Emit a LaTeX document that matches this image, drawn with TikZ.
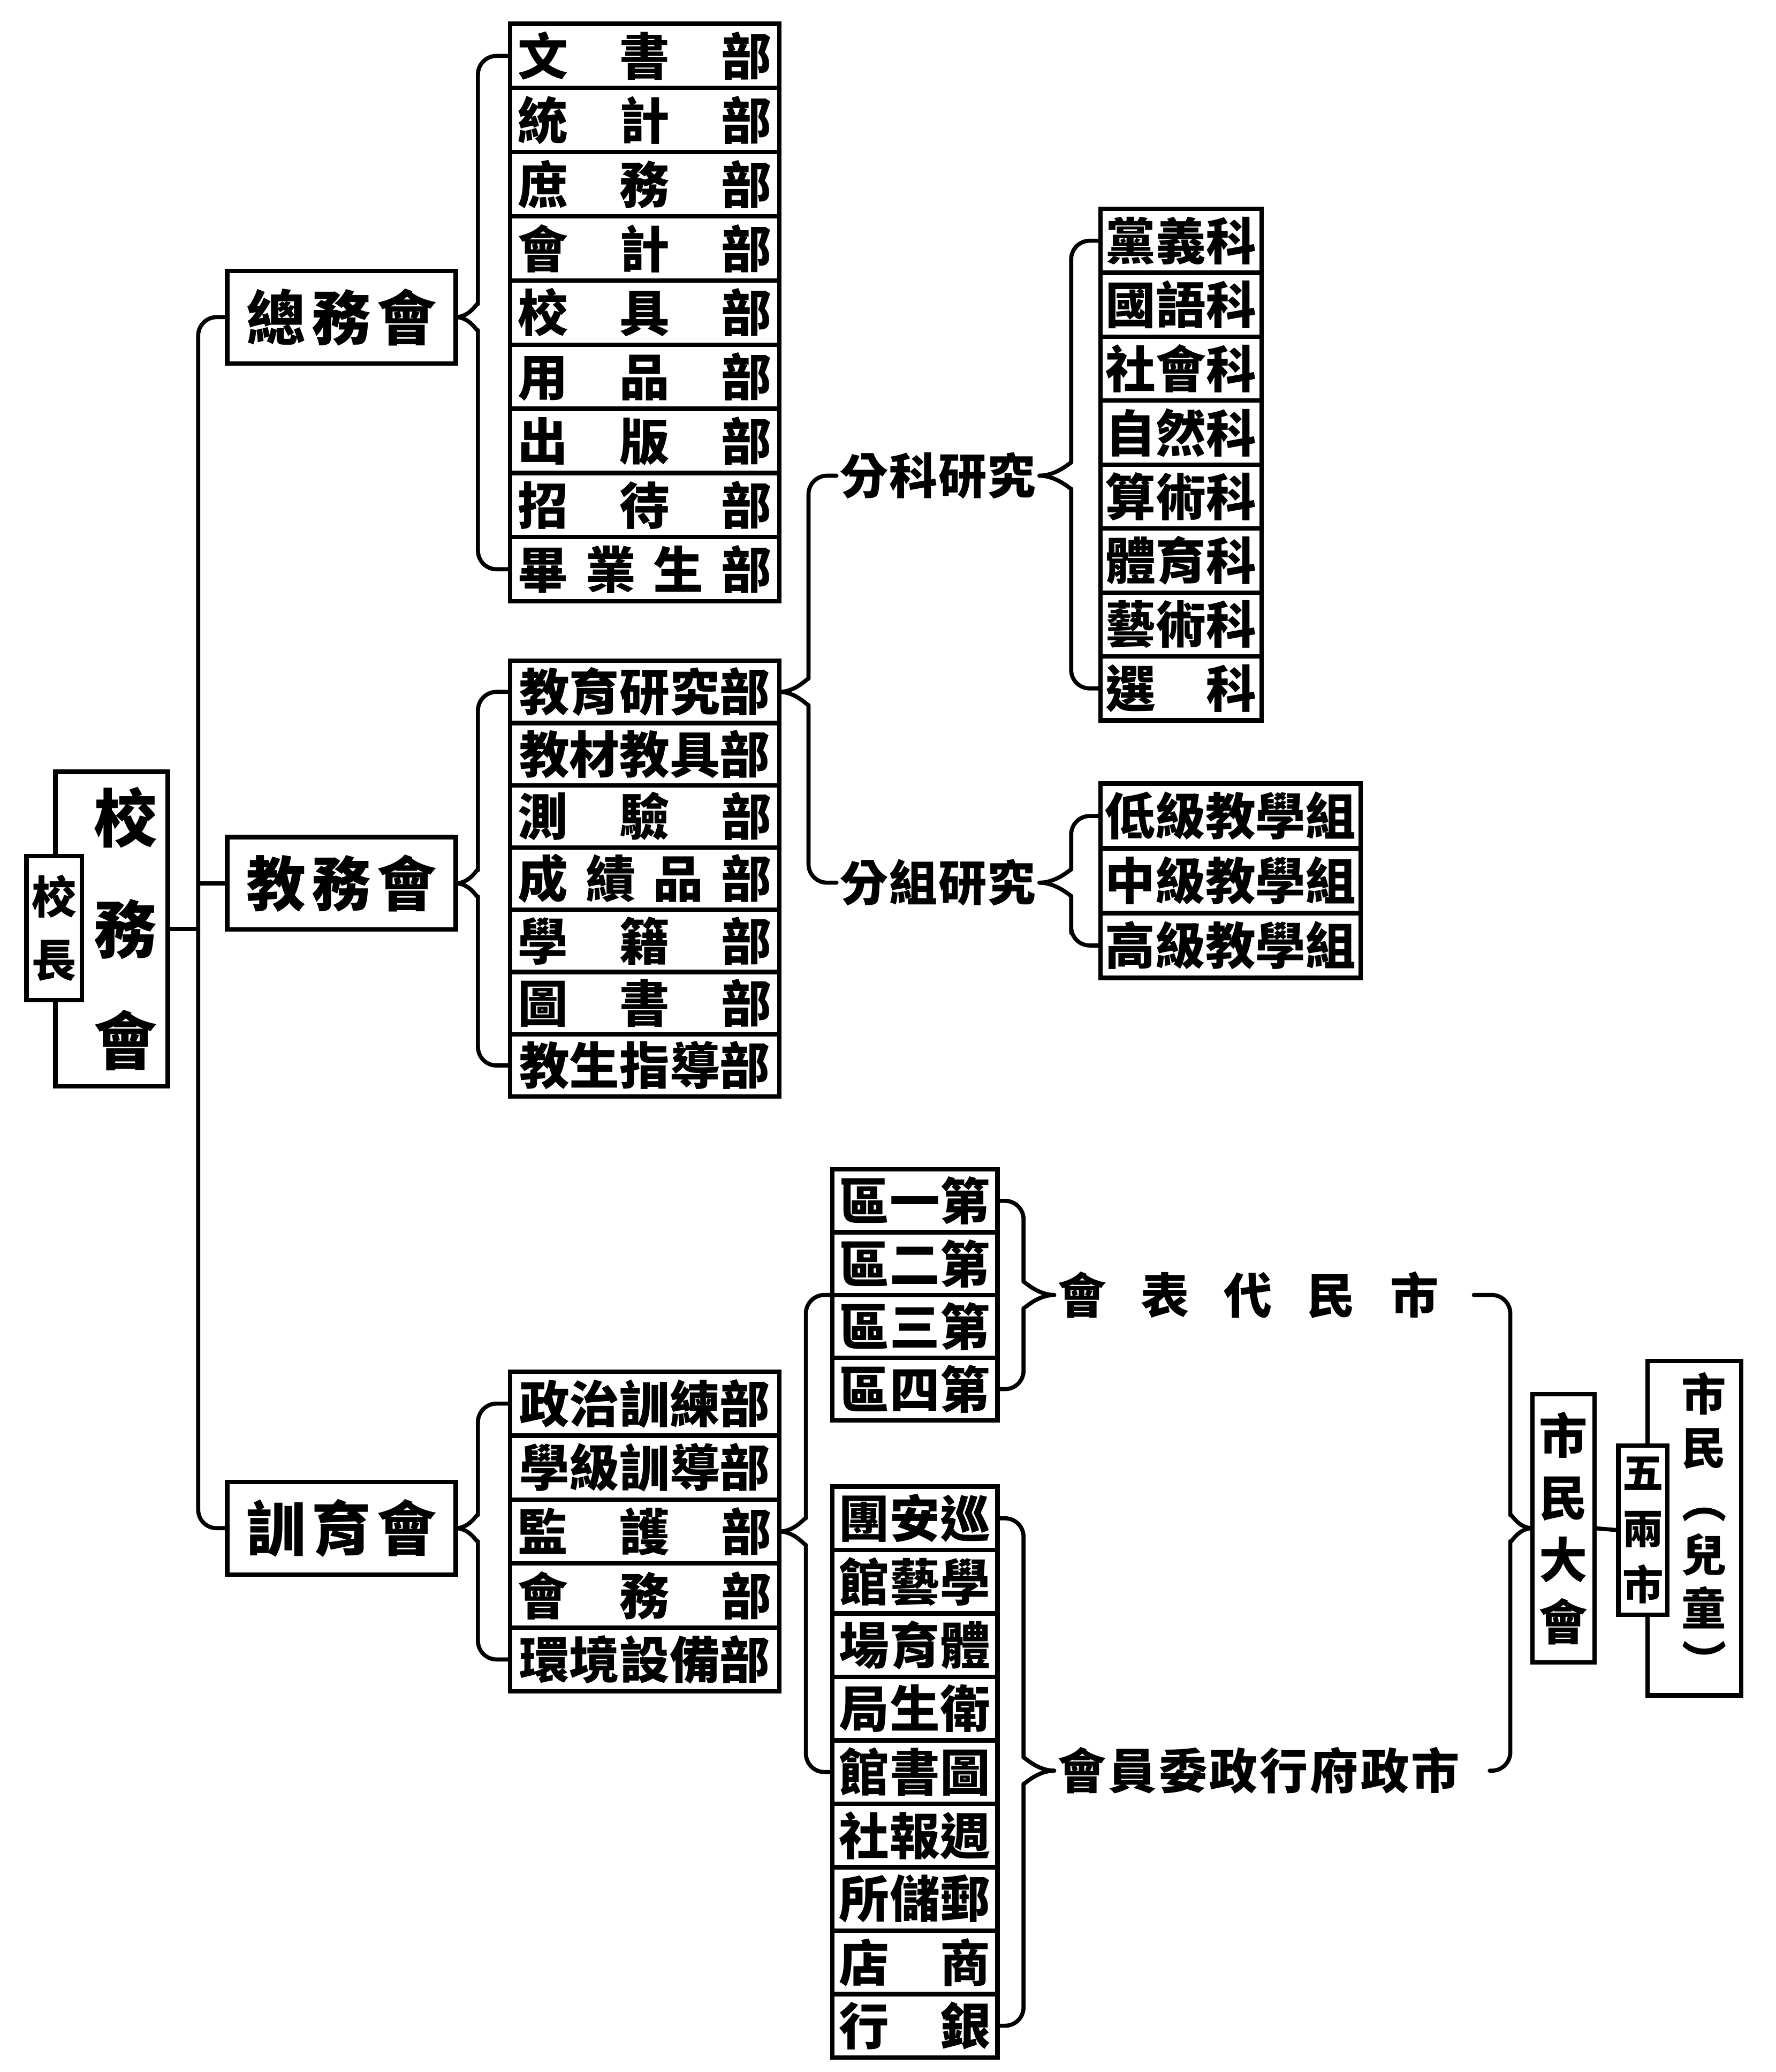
\documentclass[tikz,border=0pt]{standalone}
\usepackage{fontspec}
\usepackage{graphicx}
\newfontfamily\cjkfont{Noto Sans CJK TC}
\usetikzlibrary{positioning}
\newcommand{\spreadtext}[2]{\makebox[#1][s]{#2}}

\begin{document}
\begin{tikzpicture}[x=1cm,y=1cm]
\tikzset{
  orgbox/.style={draw=black,line width=1.2pt,inner sep=1pt,outer sep=0pt,fill=white,font=\cjkfont\bfseries},
  headbox/.style={orgbox,minimum width=2.1625cm,minimum height=0.875cm,font=\cjkfont\bfseries\fontsize{16}{18}\selectfont},
  rowtext/.style={font=\cjkfont\bfseries\fontsize{13.5}{15}\selectfont},
  zwrow/.style={orgbox,rowtext,minimum width=2.55cm,minimum height=0.607cm},
  jwrow/.style={orgbox,rowtext,minimum width=2.55cm,minimum height=0.589cm},
  xyrow/.style={orgbox,rowtext,minimum width=2.55cm,minimum height=0.605cm},
  kmrow/.style={orgbox,rowtext,minimum width=1.525cm,minimum height=0.605cm},
  zbrow/.style={orgbox,rowtext,minimum width=2.4625cm,minimum height=0.6125cm},
  qurow/.style={orgbox,rowtext,minimum width=1.5625cm,minimum height=0.5937cm},
  jgrow/.style={orgbox,rowtext,minimum width=1.5625cm,minimum height=0.6cm},
  caption/.style={inner sep=1pt,outer sep=0pt,font=\cjkfont\bfseries\fontsize{13}{15}\selectfont},
  orglink/.style={draw=black,line width=1.1pt,line cap=round,line join=round},
  bracelink/.style={orglink,rounded corners=5pt}
}
\useasboundingbox (0,0) rectangle (16.8,19.6);
% school council and principal
\node[orgbox,minimum width=1.0625cm,minimum height=2.975cm,text width=0.86cm,align=right,inner xsep=0.05cm,font=\cjkfont\bfseries\fontsize{17}{30}\selectfont] (n_XWH) at (1.056,10.8125) {校\\務\\會};
\node[orgbox,minimum width=0.525cm,minimum height=1.3625cm,align=center,font=\cjkfont\bfseries\fontsize{12}{17}\selectfont] (n_XZ) at (0.5125,10.8188) {校\\長};
\coordinate (c_trunk) at (1.875,10.8);
% three councils
\node[headbox] (n_ZWH) at (3.231,16.6) {\spreadtext{1.8cm}{總\hfill 務\hfill 會}};
\node[headbox] (n_JWH) at (3.231,11.244) {\spreadtext{1.8cm}{教\hfill 務\hfill 會}};
\node[headbox] (n_XYH) at (3.231,5.144) {\spreadtext{1.8cm}{訓\hfill 育\hfill 會}};
% general affairs
\node[zwrow] (n_ZW1) at (6.1,19.071) {\spreadtext{2.4cm}{文\hfill 書\hfill 部}};
\node[zwrow] (n_ZW2) at (6.1,18.464) {\spreadtext{2.4cm}{統\hfill 計\hfill 部}};
\node[zwrow] (n_ZW3) at (6.1,17.857) {\spreadtext{2.4cm}{庶\hfill 務\hfill 部}};
\node[zwrow] (n_ZW4) at (6.1,17.250) {\spreadtext{2.4cm}{會\hfill 計\hfill 部}};
\node[zwrow] (n_ZW5) at (6.1,16.643) {\spreadtext{2.4cm}{校\hfill 具\hfill 部}};
\node[zwrow] (n_ZW6) at (6.1,16.036) {\spreadtext{2.4cm}{用\hfill 品\hfill 部}};
\node[zwrow] (n_ZW7) at (6.1,15.429) {\spreadtext{2.4cm}{出\hfill 版\hfill 部}};
\node[zwrow] (n_ZW8) at (6.1,14.822) {\spreadtext{2.4cm}{招\hfill 待\hfill 部}};
\node[zwrow] (n_ZW9) at (6.1,14.215) {\spreadtext{2.4cm}{畢\hfill 業\hfill 生\hfill 部}};
% teaching affairs
\node[jwrow] (n_JW1) at (6.1,13.055) {教育研究部};
\node[jwrow] (n_JW2) at (6.1,12.466) {教材教具部};
\node[jwrow] (n_JW3) at (6.1,11.877) {\spreadtext{2.4cm}{測\hfill 驗\hfill 部}};
\node[jwrow] (n_JW4) at (6.1,11.288) {\spreadtext{2.4cm}{成\hfill 績\hfill 品\hfill 部}};
\node[jwrow] (n_JW5) at (6.1,10.699) {\spreadtext{2.4cm}{學\hfill 籍\hfill 部}};
\node[jwrow] (n_JW6) at (6.1,10.110) {\spreadtext{2.4cm}{圖\hfill 書\hfill 部}};
\node[jwrow] (n_JW7) at (6.1,9.521) {教生指導部};
\node[caption] (n_FK) at (8.875,15.1) {\spreadtext{1.85cm}{分\hfill 科\hfill 研\hfill 究}};
\node[caption] (n_FZ) at (8.875,11.25) {\spreadtext{1.85cm}{分\hfill 組\hfill 研\hfill 究}};
\node[kmrow] (n_KM1) at (11.175,17.3225) {黨義科};
\node[kmrow] (n_KM2) at (11.175,16.7175) {國語科};
\node[kmrow] (n_KM3) at (11.175,16.1125) {社會科};
\node[kmrow] (n_KM4) at (11.175,15.5075) {自然科};
\node[kmrow] (n_KM5) at (11.175,14.9025) {算術科};
\node[kmrow] (n_KM6) at (11.175,14.2975) {體育科};
\node[kmrow] (n_KM7) at (11.175,13.6925) {藝術科};
\node[kmrow] (n_KM8) at (11.175,13.0875) {\spreadtext{1.43cm}{選\hfill 科}};
\node[zbrow] (n_ZB1) at (11.644,11.881) {低級教學組};
\node[zbrow] (n_ZB2) at (11.644,11.2685) {中級教學組};
\node[zbrow] (n_ZB3) at (11.644,10.656) {高級教學組};
% guidance
\node[xyrow] (n_XY1) at (6.1,6.3225) {政治訓練部};
\node[xyrow] (n_XY2) at (6.1,5.7175) {學級訓導部};
\node[xyrow] (n_XY3) at (6.1,5.1125) {\spreadtext{2.4cm}{監\hfill 護\hfill 部}};
\node[xyrow] (n_XY4) at (6.1,4.5075) {\spreadtext{2.4cm}{會\hfill 務\hfill 部}};
\node[xyrow] (n_XY5) at (6.1,3.9025) {環境設備部};
\node[qurow] (n_QU1) at (8.656,8.2406) {\spreadtext{1.43cm}{區\hfill 一\hfill 第}};
\node[qurow] (n_QU2) at (8.656,7.6469) {\spreadtext{1.43cm}{區\hfill 二\hfill 第}};
\node[qurow] (n_QU3) at (8.656,7.0532) {\spreadtext{1.43cm}{區\hfill 三\hfill 第}};
\node[qurow] (n_QU4) at (8.656,6.4595) {\spreadtext{1.43cm}{區\hfill 四\hfill 第}};
\node[jgrow] (n_JG1) at (8.656,5.2375) {\spreadtext{1.43cm}{團\hfill 安\hfill 巡}};
\node[jgrow] (n_JG2) at (8.656,4.6375) {\spreadtext{1.43cm}{館\hfill 藝\hfill 學}};
\node[jgrow] (n_JG3) at (8.656,4.0375) {\spreadtext{1.43cm}{場\hfill 育\hfill 體}};
\node[jgrow] (n_JG4) at (8.656,3.4375) {\spreadtext{1.43cm}{局\hfill 生\hfill 衛}};
\node[jgrow] (n_JG5) at (8.656,2.8375) {\spreadtext{1.43cm}{館\hfill 書\hfill 圖}};
\node[jgrow] (n_JG6) at (8.656,2.2375) {\spreadtext{1.43cm}{社\hfill 報\hfill 週}};
\node[jgrow] (n_JG7) at (8.656,1.6375) {\spreadtext{1.43cm}{所\hfill 儲\hfill 郵}};
\node[jgrow] (n_JG8) at (8.656,1.0375) {\spreadtext{1.43cm}{店\hfill 商}};
\node[jgrow] (n_JG9) at (8.656,0.4375) {\spreadtext{1.43cm}{行\hfill 銀}};
\node[caption] (n_DB) at (11.81,7.35) {\spreadtext{3.6cm}{會\hfill 表\hfill 代\hfill 民\hfill 市}};
\node[caption] (n_ZF) at (11.91,2.85) {\spreadtext{3.8cm}{會\hfill 員\hfill 委\hfill 政\hfill 行\hfill 府\hfill 政\hfill 市}};
% citizens
\node[orgbox,minimum width=0.5875cm,minimum height=2.5375cm,align=center,font=\cjkfont\bfseries\fontsize{13}{16.7}\selectfont] (n_SMDH) at (14.794,5.144) {市\\民\\大\\會};
\node[orgbox,minimum width=0.8875cm,minimum height=3.1625cm,text width=0.6cm,align=right,inner xsep=0.05cm,font=\cjkfont\bfseries\fontsize{12}{14.4}\selectfont] (n_SM) at (16.031,5.144) {市\\民\\\rotatebox[origin=c]{-90}{（}\\兒\\童\\\rotatebox[origin=c]{-90}{）}};
\node[orgbox,minimum width=0.4625cm,minimum height=1.6cm,align=center,font=\cjkfont\bfseries\fontsize{11}{15}\selectfont] (n_SZ) at (15.544,5.125) {五\\兩\\市};
% trunk
\draw[bracelink] (n_ZWH.west) -- (n_ZWH.west -| c_trunk) -- (n_XYH.west -| c_trunk) -- (n_XYH.west);
\draw[orglink] (n_JWH.west) -- (n_JWH.west -| c_trunk);
\draw[orglink] (n_XWH.east) -- (n_XWH.east -| c_trunk);
% braces
\draw[bracelink] (n_ZWH.east) to[out=0,in=-90] ++(0.21,0.3) |- (n_ZW1.west);
\draw[bracelink] (n_ZWH.east) to[out=0,in=90] ++(0.21,-0.3) |- (n_ZW9.west);
\draw[bracelink] (n_JWH.east) to[out=0,in=-90] ++(0.21,0.3) |- (n_JW1.west);
\draw[bracelink] (n_JWH.east) to[out=0,in=90] ++(0.21,-0.3) |- (n_JW7.west);
\draw[bracelink] (n_XYH.east) to[out=0,in=-90] ++(0.21,0.3) |- (n_XY1.west);
\draw[bracelink] (n_XYH.east) to[out=0,in=90] ++(0.21,-0.3) |- (n_XY5.west);
\draw[bracelink] (n_JW1.east) to[out=0,in=-90] ++(0.275,0.3) |- (n_FK.west);
\draw[bracelink] (n_JW1.east) to[out=0,in=90] ++(0.275,-0.3) |- (n_FZ.west);
\draw[bracelink] (n_FK.east) to[out=0,in=-90] ++(0.3,0.3) |- (n_KM1.west);
\draw[bracelink] (n_FK.east) to[out=0,in=90] ++(0.3,-0.3) |- (n_KM8.west);
\draw[bracelink] (n_FZ.east) to[out=0,in=-90] ++(0.3,0.3) |- (n_ZB1.west);
\draw[bracelink] (n_FZ.east) to[out=0,in=90] ++(0.3,-0.3) |- (n_ZB3.west);
\draw[bracelink] (n_XY3.east) to[out=0,in=-90] ++(0.25,0.3) |- (n_QU3.north west);
\draw[bracelink] (n_XY3.east) to[out=0,in=90] ++(0.25,-0.3) |- (n_JG5.west);
\draw[bracelink] (n_DB.west) to[out=180,in=-90] ++(-0.29,0.3) |- (n_QU1.east);
\draw[bracelink] (n_DB.west) to[out=180,in=90] ++(-0.29,-0.3) |- (n_QU4.east);
\draw[bracelink] (n_ZF.west) to[out=180,in=-90] ++(-0.29,0.3) |- (n_JG1.east);
\draw[bracelink] (n_ZF.west) to[out=180,in=90] ++(-0.29,-0.3) |- (n_JG9.east);
\draw[bracelink] (n_SMDH.west) to[out=180,in=-90] ++(-0.21,0.3) |- ([xshift=0.3cm]n_DB.east);
\draw[bracelink] (n_SMDH.west) to[out=180,in=90] ++(-0.21,-0.3) |- ([xshift=0.25cm]n_ZF.east);
\draw[orglink] (n_SMDH.east) -- (n_SZ.west);
\end{tikzpicture}
\end{document}
